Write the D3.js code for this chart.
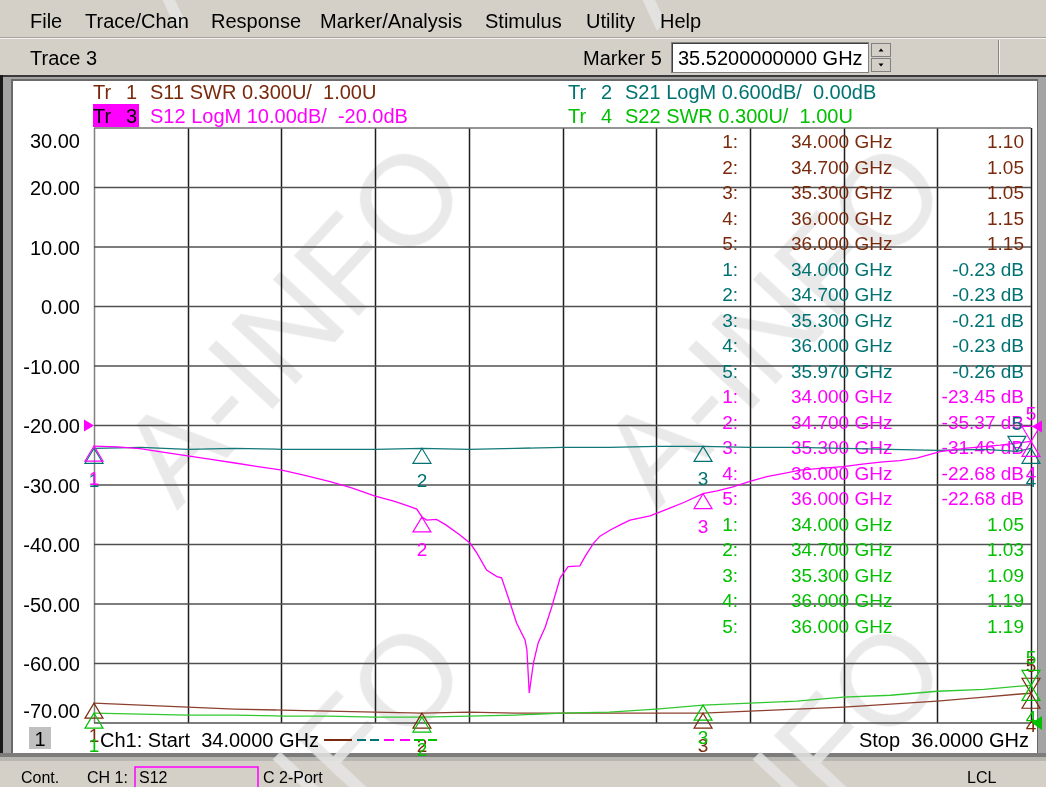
<!DOCTYPE html>
<html><head><meta charset="utf-8">
<script src="https://cdn.jsdelivr.net/npm/d3@7"></script>
<style>
html,body{margin:0;padding:0;background:#d4d0c8;overflow:hidden;}
svg{display:block;font-family:"Liberation Sans",Arial,sans-serif;}
text{white-space:pre;}
</style></head><body>
<svg id="c" width="1046" height="787"></svg>
<script>
// ---------------- DATA ----------------
const menuItems = ["File","Trace/Chan","Response","Marker/Analysis","Stimulus","Utility","Help"];
const yTickValues = [30,20,10,0,-10,-20,-30,-40,-50,-60,-70];
const freqStart = 34.0, freqStop = 36.0;
const xGridStep = 0.2;

// S12 (Tr 3, LogM dB)
const s12Freq = [34.000,34.050,34.098,34.150,34.200,34.250,34.301,34.350,34.401,34.450,34.504,34.550,34.600,34.640,34.670,34.689,34.700,34.710,34.731,34.751,34.781,34.803,34.817,34.838,34.860,34.870,34.888,34.902,34.920,34.924,34.929,34.938,34.948,34.963,34.977,34.995,35.012,35.037,35.048,35.066,35.080,35.101,35.123,35.144,35.187,35.229,35.260,35.300,35.330,35.364,35.400,35.436,35.470,35.507,35.550,35.599,35.640,35.684,35.720,35.756,35.806,35.863,35.934,36.000];
const s12Val  = [-23.45,-23.6,-23.9,-24.5,-25.1,-25.7,-26.3,-26.9,-27.5,-28.4,-29.45,-30.5,-31.85,-32.7,-33.5,-34.05,-35.37,-35.9,-35.77,-36.7,-38.4,-39.8,-41.4,-44.3,-45.4,-45.6,-49.8,-53.2,-56.05,-57.7,-64.96,-59.9,-56.55,-53.9,-50.5,-45.6,-43.7,-43.6,-42.05,-39.8,-38.6,-37.6,-36.7,-35.9,-35.2,-33.9,-32.9,-31.46,-31.0,-30.3,-29.4,-28.6,-28.1,-27.5,-27.2,-26.9,-26.5,-26.1,-25.9,-25.5,-24.4,-23.8,-23.3,-22.68];

// common frequency grid for the flat traces
const flatFreq = [34.0,34.1,34.2,34.3,34.4,34.5,34.6,34.7,34.8,34.9,35.0,35.1,35.2,35.3,35.4,35.5,35.6,35.7,35.8,35.9,35.97,36.0];
// S21 (Tr 2, LogM dB)
const s21Val = [-0.23,-0.22,-0.24,-0.23,-0.24,-0.24,-0.24,-0.23,-0.24,-0.23,-0.22,-0.22,-0.21,-0.21,-0.22,-0.22,-0.23,-0.24,-0.25,-0.24,-0.26,-0.23];
// S11 (Tr 1, SWR)
const s11Val = [1.10,1.09,1.08,1.07,1.065,1.06,1.055,1.05,1.055,1.05,1.05,1.05,1.05,1.05,1.06,1.07,1.08,1.095,1.11,1.13,1.145,1.15];
// S22 (Tr 4, SWR)
const s22Val = [1.05,1.045,1.04,1.04,1.035,1.035,1.03,1.03,1.035,1.04,1.05,1.055,1.07,1.09,1.10,1.11,1.13,1.14,1.16,1.17,1.185,1.19];

// markers
const mkFreqS11 = [34.0,34.7,35.3,36.0,36.0];  const mkValS11 = [1.10,1.05,1.05,1.15,1.15];
const mkFreqS21 = [34.0,34.7,35.3,36.0,35.97]; const mkValS21 = [-0.23,-0.23,-0.21,-0.23,-0.26];
const mkFreqS12 = [34.0,34.7,35.3,36.0,36.0];  const mkValS12 = [-23.45,-35.37,-31.46,-22.68,-22.68];
const mkFreqS22 = [34.0,34.7,35.3,36.0,36.0];  const mkValS22 = [1.05,1.03,1.09,1.19,1.19];

const traceHeaders = [
  {tr:"1", text:"S11 SWR 0.300U/  1.00U"},
  {tr:"2", text:"S21 LogM 0.600dB/  0.00dB"},
  {tr:"3", text:"S12 LogM 10.00dB/  -20.0dB"},
  {tr:"4", text:"S22 SWR 0.300U/  1.00U"}
];

// ---------------- LAYOUT ----------------
const C = {brown:"#7a2a0c", brownLine:"#8e4030", teal:"#007272", tealLine:"#137878", mag:"#ff00ff", green:"#00c000", greenLine:"#30c830", win:"#d4d0c8"};
const svg = d3.select("#c");
const X0 = 94, X1 = 1031, Y0 = 128, Y1 = 723;
const xScale = d3.scaleLinear().domain([freqStart,freqStop]).range([X0,X1]);
const yS12 = d3.scaleLinear().domain([-70,30]).range([Y1,Y0]);
const yS21 = d3.scaleLinear().domain([-3,3]).range([Y1,Y0]);
const ySWR = d3.scaleLinear().domain([1.0,4.0]).range([Y1,Y0]);

// window backgrounds
svg.append("rect").attr("x",0).attr("y",0).attr("width",1046).attr("height",787).attr("fill",C.win);
svg.append("line").attr("x1",0).attr("x2",1046).attr("y1",37.5).attr("y2",37.5).attr("stroke","#a8a49c");
svg.append("line").attr("x1",0).attr("x2",1046).attr("y1",38.5).attr("y2",38.5).attr("stroke","#f4f2ee");
svg.append("line").attr("x1",998.5).attr("x2",998.5).attr("y1",40).attr("y2",74).attr("stroke","#8a8680");
svg.append("line").attr("x1",999.5).attr("x2",999.5).attr("y1",40).attr("y2",74).attr("stroke","#f4f2ee");
// chart frame
svg.append("rect").attr("x",0).attr("y",75).attr("width",1046).attr("height",685).attr("fill","#a4a4a4");
svg.append("rect").attr("x",0).attr("y",75).attr("width",1046).attr("height",2).attr("fill","#3a3a3a");
svg.append("rect").attr("x",0).attr("y",75).attr("width",3).attr("height",685).attr("fill","#1a1a1a");
svg.append("rect").attr("x",11).attr("y",79).attr("width",1027).attr("height",675).attr("fill","#6a6a6a");
svg.append("rect").attr("x",13).attr("y",81).attr("width",1024).attr("height",672).attr("fill","#ffffff");
svg.append("rect").attr("x",0).attr("y",753).attr("width",1046).attr("height",4).attr("fill","#7c7c7c");
svg.append("rect").attr("x",0).attr("y",757).attr("width",1046).attr("height",4).attr("fill","#b8b6b0");
svg.append("rect").attr("x",0).attr("y",761).attr("width",1046).attr("height",26).attr("fill",C.win);

// watermark
const wm = svg.append("g").attr("fill","#e6e6e6").attr("opacity",0.85)
  .attr("font-size",128).attr("font-family","'Liberation Sans',Arial,sans-serif");
[[292,322],[772,322],[292,802],[772,802],[292,-158],[772,-158]].forEach(([cx,cy])=>{
  wm.append("text").attr("x",cx).attr("y",cy).attr("text-anchor","middle").attr("dominant-baseline","central")
    .attr("transform",`rotate(-47,${cx},${cy})`).text("A-INFO");
});

// menu bar
const menuX = [30,85,211,320,485,586,660];
svg.append("g").selectAll("text").data(menuItems).join("text")
  .attr("x",(d,i)=>menuX[i]).attr("y",28).attr("font-size",20).attr("fill","#000").text(d=>d);

// toolbar
svg.append("text").attr("x",30).attr("y",65).attr("font-size",20).text("Trace 3");
svg.append("text").attr("x",583).attr("y",65).attr("font-size",20).text("Marker 5");
svg.append("rect").attr("x",671.5).attr("y",42.5).attr("width",197).attr("height",30).attr("fill","#fff").attr("stroke","#808080");
svg.append("line").attr("x1",672).attr("x2",868).attr("y1",43.5).attr("y2",43.5).attr("stroke","#404040");
svg.append("line").attr("x1",672.5).attr("x2",672.5).attr("y1",43).attr("y2",72).attr("stroke","#404040");
svg.append("text").attr("x",678).attr("y",65).attr("font-size",20).text("35.5200000000 GHz");
// spin buttons
[[43,57],[58,72]].forEach(([a,b],i)=>{
  svg.append("rect").attr("x",871.5).attr("y",a+0.5).attr("width",19).attr("height",b-a-1).attr("fill",C.win).attr("stroke","#808080");
  const cx=881, cy=(a+b)/2;
  svg.append("path").attr("d", i===0 ? `M${cx-2.5},${cy+1.5}L${cx+2.5},${cy+1.5}L${cx},${cy-1.5}Z` : `M${cx-2.5},${cy-1.5}L${cx+2.5},${cy-1.5}L${cx},${cy+1.5}Z`).attr("fill","#000");
});

// grid
const grid = svg.append("g");
const xTicks = d3.range(0,11).map(i=>freqStart+i*xGridStep);
grid.selectAll("line.v").data(xTicks).join("line").attr("class","v")
  .attr("x1",d=>Math.round(xScale(d))+0.5).attr("x2",d=>Math.round(xScale(d))+0.5)
  .attr("y1",Y0).attr("y2",Y1).attr("stroke",(d,i)=>i===0?"#808080":"#1e1e1e").attr("stroke-width",1.5);
grid.selectAll("line.h").data(yTickValues).join("line").attr("class","h")
  .attr("x1",X0).attr("x2",X1).attr("y1",d=>yS12(d)).attr("y2",d=>yS12(d))
  .attr("stroke",(d,i)=>(i===0)?"#707070":"#505050").attr("stroke-width",1.5);

// Y axis (active trace S12)
const fmt = d3.format(".2f");
const yAxis = d3.axisLeft(yS12).tickValues(yTickValues).tickSize(0).tickPadding(0)
  .tickFormat(d=>fmt(d).replace("\u2212","-"));
const ya = svg.append("g").attr("transform",`translate(80,0)`).call(yAxis);
ya.select(".domain").remove();
ya.selectAll("text").attr("font-size",20).attr("font-family","'Liberation Sans',Arial,sans-serif").attr("fill","#000")
  .attr("dy",null).attr("dominant-baseline",null)
  .attr("y",d=> d===30 ? 19 : (d===-70 ? -6 : 7));

// header
svg.append("rect").attr("x",93).attr("y",104).attr("width",46).attr("height",23).attr("fill",C.mag);
const hdr = svg.append("g").attr("font-size",20);
const hdrPos = [{x:93,y:99,c:C.brown},{x:568,y:99,c:C.teal},{x:93,y:123,c:C.mag},{x:568,y:123,c:C.green}];
traceHeaders.forEach((h,i)=>{
  const p = hdrPos[i];
  const tc = (h.tr==="3") ? "#000" : p.c;
  hdr.append("text").attr("x",p.x).attr("y",p.y).attr("fill",tc).text("Tr");
  hdr.append("text").attr("x",p.x+33).attr("y",p.y).attr("fill",tc).text(h.tr);
  hdr.append("text").attr("x",p.x+57).attr("y",p.y).attr("fill",p.c).text(h.text);
});

// marker table
const tableSets = [
  {f:mkFreqS11,v:mkValS11,c:C.brown,u:""},
  {f:mkFreqS21,v:mkValS21,c:C.teal,u:" dB"},
  {f:mkFreqS12,v:mkValS12,c:C.mag,u:" dB"},
  {f:mkFreqS22,v:mkValS22,c:C.green,u:""}
];
const tbl = svg.append("g").attr("font-size",19);
let row = 0;
tableSets.forEach(s=>{
  s.f.forEach((f,i)=>{
    const y = 141 + row*25.52 + 7;
    tbl.append("text").attr("x",738).attr("y",y).attr("text-anchor","end").attr("fill",s.c).text((i+1)+":");
    tbl.append("text").attr("x",791).attr("y",y).attr("fill",s.c).text(f.toFixed(3)+" GHz");
    tbl.append("text").attr("x",1024).attr("y",y).attr("text-anchor","end").attr("fill",s.c).text(s.v[i].toFixed(2)+s.u);
    row++;
  });
});

// traces
const traces = svg.append("g").attr("fill","none").attr("stroke-width",1.3);
const mkLine = ys => d3.line().x(d=>xScale(d[0])).y(d=>ys(d[1]));
traces.append("path").attr("d",mkLine(ySWR)(d3.zip(flatFreq,s11Val))).attr("stroke",C.brownLine);
traces.append("path").attr("d",mkLine(ySWR)(d3.zip(flatFreq,s22Val))).attr("stroke",C.greenLine);
traces.append("path").attr("d",mkLine(yS21)(d3.zip(flatFreq,s21Val))).attr("stroke",C.tealLine);
traces.append("path").attr("d",mkLine(yS12)(d3.zip(s12Freq,s12Val))).attr("stroke",C.mag);

// reference arrows
const ryS12 = yS12(-20);
svg.append("path").attr("d",`M${X0-10},${ryS12-6}L${X0},${ryS12}L${X0-10},${ryS12+6}Z`).attr("fill",C.mag);
svg.append("path").attr("d",`M${X1+11},${ryS12-5}L${X1+1},${ryS12+1}L${X1+11},${ryS12+7}Z`).attr("fill",C.mag);
const rySWR = ySWR(1.0);
svg.append("path").attr("d",`M${X1+11},${rySWR-7}L${X1+1},${rySWR}L${X1+11},${rySWR+7}Z`).attr("fill",C.green);

// markers
function drawMarkers(freqs, vals, ys, color){
  const g = svg.append("g");
  freqs.forEach((f,i)=>{
    const x = xScale(f), y = ys(vals[i]), n = i+1;
    if(n===5){
      g.append("path").attr("d",`M${x},${y}L${x-9},${y-15}L${x+9},${y-15}Z`).attr("fill","none").attr("stroke",color).attr("stroke-width",1.2);
      g.append("text").attr("x",x).attr("y",y-21).attr("text-anchor","middle").attr("font-size",19).attr("fill",color).text(n);
    } else {
      g.append("path").attr("d",`M${x},${y}L${x-9},${y+15}L${x+9},${y+15}Z`).attr("fill","none").attr("stroke",color).attr("stroke-width",1.2);
      g.append("text").attr("x",x).attr("y",y+39).attr("text-anchor","middle").attr("font-size",19).attr("fill",color).text(n);
    }
  });
}
drawMarkers(mkFreqS11,mkValS11,ySWR,C.brown);
drawMarkers(mkFreqS22,mkValS22,ySWR,C.green);
drawMarkers(mkFreqS21,mkValS21,yS21,C.teal);
drawMarkers(mkFreqS12,mkValS12,yS12,C.mag);

// bottom info
svg.append("rect").attr("x",29).attr("y",727).attr("width",22).attr("height",22).attr("fill","#c0c0c0");
svg.append("text").attr("x",40).attr("y",746).attr("text-anchor","middle").attr("font-size",20).text("1");
svg.append("text").attr("x",100).attr("y",747).attr("font-size",20).text("Ch1: Start  34.0000 GHz");
svg.append("text").attr("x",1029).attr("y",747).attr("text-anchor","end").attr("font-size",20).text("Stop  36.0000 GHz");
const leg = svg.append("g").attr("stroke-width",2);
leg.append("line").attr("x1",324).attr("x2",352).attr("y1",740).attr("y2",740).attr("stroke",C.brown);
leg.append("line").attr("x1",357).attr("x2",380).attr("y1",740).attr("y2",740).attr("stroke",C.teal).attr("stroke-dasharray","9,4");
leg.append("line").attr("x1",384).attr("x2",414).attr("y1",740).attr("y2",740).attr("stroke",C.mag).attr("stroke-dasharray","10,6");
leg.append("line").attr("x1",414).attr("x2",437).attr("y1",740).attr("y2",740).attr("stroke",C.green).attr("stroke-dasharray","10,4");

// status bar
const st = svg.append("g").attr("font-size",16).attr("fill","#000");
st.append("text").attr("x",21).attr("y",783).text("Cont.");
st.append("text").attr("x",87).attr("y",783).text("CH 1:");
st.append("rect").attr("x",135).attr("y",767).attr("width",123).attr("height",21).attr("fill","none").attr("stroke",C.mag).attr("stroke-width",1.5);
st.append("text").attr("x",139).attr("y",783).text("S12");
st.append("text").attr("x",263).attr("y",783).text("C 2-Port");
st.append("text").attr("x",967).attr("y",783).text("LCL");
</script>
</body></html>
